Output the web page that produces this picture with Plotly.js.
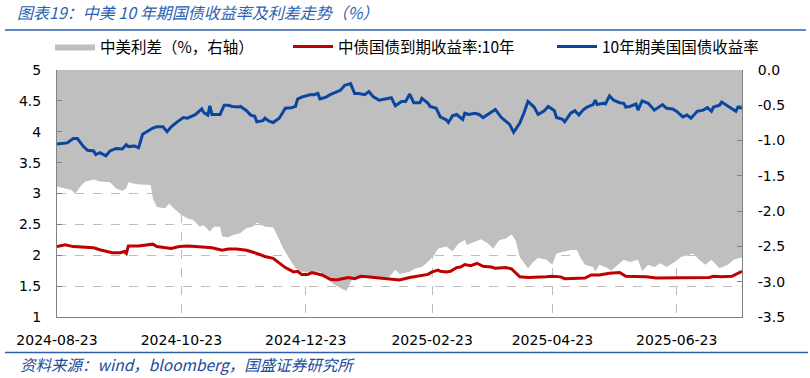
<!DOCTYPE html>
<html>
<head>
<meta charset="utf-8">
<script src="https://cdn.plot.ly/plotly-3.0.1.min.js"></script>
<style>html,body{margin:0;padding:0;background:#fff;}#chart{width:810px;height:378px;}</style>
</head>
<body>
<div id="chart"></div>
<script>
// ---- data ----
const usDates = ["2024-08-23","2024-08-28","2024-08-31","2024-09-02","2024-09-05","2024-09-07","2024-09-10","2024-09-11","2024-09-13","2024-09-16","2024-09-18","2024-09-21","2024-09-24","2024-09-26","2024-09-27","2024-09-30","2024-10-02","2024-10-04","2024-10-06","2024-10-09","2024-10-11","2024-10-14","2024-10-16","2024-10-18","2024-10-21","2024-10-24","2024-10-26","2024-10-29","2024-10-30","2024-11-02","2024-11-03","2024-11-05","2024-11-06","2024-11-07","2024-11-11","2024-11-13","2024-11-15","2024-11-17","2024-11-20","2024-11-21","2024-11-24","2024-11-26","2024-11-28","2024-11-29","2024-12-02","2024-12-03","2024-12-05","2024-12-07","2024-12-10","2024-12-13","2024-12-16","2024-12-18","2024-12-19","2024-12-21","2024-12-25","2024-12-27","2024-12-29","2024-12-30","2025-01-02","2025-01-04","2025-01-07","2025-01-09","2025-01-11","2025-01-14","2025-01-16","2025-01-18","2025-01-21","2025-01-23","2025-01-25","2025-01-28","2025-01-31","2025-02-03","2025-02-05","2025-02-08","2025-02-10","2025-02-12","2025-02-14","2025-02-17","2025-02-18","2025-02-21","2025-02-22","2025-02-25","2025-02-27","2025-03-02","2025-03-03","2025-03-05","2025-03-07","2025-03-10","2025-03-11","2025-03-13","2025-03-16","2025-03-18","2025-03-20","2025-03-23","2025-03-26","2025-03-29","2025-03-31","2025-04-02","2025-04-04","2025-04-07","2025-04-09","2025-04-11","2025-04-14","2025-04-16","2025-04-19","2025-04-21","2025-04-24","2025-04-25","2025-04-28","2025-04-29","2025-05-02","2025-05-04","2025-05-06","2025-05-08","2025-05-10","2025-05-13","2025-05-14","2025-05-15","2025-05-18","2025-05-19","2025-05-21","2025-05-23","2025-05-26","2025-05-28","2025-05-29","2025-05-31","2025-06-03","2025-06-04","2025-06-06","2025-06-09","2025-06-12","2025-06-14","2025-06-16","2025-06-18","2025-06-21","2025-06-23","2025-06-26","2025-06-28","2025-06-30","2025-07-03","2025-07-06","2025-07-08","2025-07-10","2025-07-11","2025-07-14","2025-07-15","2025-07-18","2025-07-20","2025-07-22","2025-07-23","2025-07-25"];
const usYield = [3.80,3.82,3.89,3.89,3.76,3.70,3.69,3.63,3.66,3.61,3.69,3.73,3.72,3.79,3.76,3.77,3.74,3.96,4.00,4.06,4.08,4.08,4.00,4.08,4.16,4.23,4.22,4.26,4.28,4.37,4.31,4.27,4.42,4.28,4.28,4.43,4.43,4.41,4.40,4.41,4.34,4.27,4.25,4.16,4.18,4.22,4.17,4.15,4.22,4.38,4.39,4.41,4.53,4.56,4.60,4.60,4.62,4.53,4.56,4.60,4.65,4.67,4.75,4.78,4.62,4.62,4.60,4.65,4.57,4.51,4.53,4.55,4.42,4.49,4.49,4.61,4.47,4.47,4.54,4.46,4.41,4.38,4.24,4.19,4.15,4.26,4.28,4.20,4.30,4.28,4.30,4.28,4.23,4.30,4.36,4.23,4.17,4.12,3.99,4.14,4.30,4.49,4.40,4.28,4.34,4.41,4.34,4.23,4.20,4.16,4.30,4.34,4.27,4.35,4.40,4.44,4.51,4.44,4.46,4.45,4.58,4.51,4.47,4.46,4.40,4.41,4.45,4.35,4.50,4.46,4.35,4.40,4.44,4.38,4.37,4.33,4.24,4.27,4.22,4.33,4.35,4.39,4.33,4.40,4.43,4.48,4.42,4.38,4.33,4.40,4.38];

const cnDates = ["2024-08-23","2024-08-27","2024-08-31","2024-09-05","2024-09-10","2024-09-13","2024-09-16","2024-09-19","2024-09-23","2024-09-25","2024-09-26","2024-09-27","2024-10-02","2024-10-06","2024-10-09","2024-10-11","2024-10-14","2024-10-18","2024-10-22","2024-10-26","2024-10-30","2024-11-03","2024-11-07","2024-11-12","2024-11-15","2024-11-19","2024-11-24","2024-11-29","2024-12-03","2024-12-07","2024-12-10","2024-12-13","2024-12-17","2024-12-19","2024-12-21","2024-12-24","2024-12-26","2024-12-29","2024-12-31","2025-01-04","2025-01-07","2025-01-10","2025-01-13","2025-01-16","2025-01-19","2025-01-22","2025-01-26","2025-01-30","2025-02-04","2025-02-07","2025-02-12","2025-02-15","2025-02-18","2025-02-21","2025-02-23","2025-02-26","2025-02-27","2025-03-02","2025-03-04","2025-03-07","2025-03-09","2025-03-11","2025-03-14","2025-03-17","2025-03-20","2025-03-24","2025-03-26","2025-03-31","2025-04-03","2025-04-05","2025-04-07","2025-04-11","2025-04-15","2025-04-20","2025-04-23","2025-04-27","2025-04-29","2025-05-06","2025-05-09","2025-05-12","2025-05-16","2025-05-21","2025-05-26","2025-05-29","2025-06-03","2025-06-08","2025-06-13","2025-06-19","2025-06-26","2025-07-04","2025-07-09","2025-07-11","2025-07-15","2025-07-20","2025-07-23","2025-07-25"];
const cnYield = [2.14,2.17,2.14,2.13,2.12,2.09,2.06,2.04,2.04,2.06,2.03,2.15,2.15,2.17,2.18,2.14,2.13,2.11,2.14,2.15,2.14,2.13,2.12,2.08,2.10,2.10,2.08,2.03,1.98,1.95,1.87,1.80,1.73,1.74,1.69,1.69,1.72,1.69,1.68,1.61,1.60,1.62,1.64,1.62,1.66,1.65,1.64,1.62,1.61,1.60,1.64,1.66,1.68,1.69,1.73,1.76,1.74,1.73,1.74,1.80,1.81,1.85,1.83,1.87,1.82,1.81,1.79,1.80,1.78,1.71,1.65,1.64,1.64,1.65,1.66,1.65,1.62,1.62,1.63,1.68,1.68,1.71,1.72,1.66,1.66,1.65,1.63,1.63,1.64,1.63,1.64,1.66,1.65,1.66,1.71,1.74];

const spreadDates = ["2024-08-23","2024-08-27","2024-08-30","2024-09-01","2024-09-04","2024-09-06","2024-09-10","2024-09-13","2024-09-18","2024-09-21","2024-09-24","2024-09-26","2024-09-27","2024-10-01","2024-10-08","2024-10-09","2024-10-11","2024-10-15","2024-10-17","2024-10-20","2024-10-23","2024-10-26","2024-10-29","2024-11-01","2024-11-03","2024-11-06","2024-11-08","2024-11-11","2024-11-12","2024-11-15","2024-11-17","2024-11-21","2024-11-24","2024-11-27","2024-11-29","2024-12-03","2024-12-07","2024-12-09","2024-12-12","2024-12-16","2024-12-18","2024-12-21","2024-12-25","2024-12-30","2025-01-02","2025-01-05","2025-01-09","2025-01-12","2025-01-15","2025-01-18","2025-01-21","2025-01-25","2025-01-29","2025-02-02","2025-02-05","2025-02-07","2025-02-12","2025-02-15","2025-02-18","2025-02-22","2025-02-24","2025-02-26","2025-03-02","2025-03-05","2025-03-08","2025-03-11","2025-03-12","2025-03-16","2025-03-19","2025-03-22","2025-03-25","2025-03-28","2025-03-31","2025-04-03","2025-04-05","2025-04-07","2025-04-11","2025-04-13","2025-04-16","2025-04-20","2025-04-23","2025-04-25","2025-04-29","2025-05-02","2025-05-05","2025-05-07","2025-05-09","2025-05-13","2025-05-14","2025-05-16","2025-05-19","2025-05-22","2025-05-26","2025-05-28","2025-05-31","2025-06-04","2025-06-06","2025-06-09","2025-06-12","2025-06-15","2025-06-18","2025-06-22","2025-06-25","2025-06-28","2025-07-01","2025-07-04","2025-07-07","2025-07-10","2025-07-14","2025-07-18","2025-07-21","2025-07-24","2025-07-25"];
const spreadValues = [-1.65,-1.68,-1.70,-1.75,-1.63,-1.58,-1.55,-1.58,-1.59,-1.68,-1.71,-1.68,-1.59,-1.62,-1.63,-1.82,-1.94,-1.96,-1.89,-1.98,-2.05,-2.10,-2.13,-2.22,-2.20,-2.29,-2.22,-2.22,-2.36,-2.37,-2.34,-2.31,-2.24,-2.22,-2.16,-2.22,-2.23,-2.34,-2.53,-2.72,-2.81,-2.86,-2.86,-2.86,-2.95,-3.02,-3.09,-3.13,-2.95,-2.93,-2.95,-2.93,-2.95,-2.93,-2.83,-2.89,-2.86,-2.81,-2.79,-2.69,-2.62,-2.53,-2.50,-2.57,-2.46,-2.41,-2.48,-2.44,-2.40,-2.45,-2.53,-2.41,-2.39,-2.33,-2.42,-2.65,-2.81,-2.74,-2.66,-2.69,-2.76,-2.60,-2.57,-2.55,-2.55,-2.67,-2.76,-2.79,-2.86,-2.76,-2.79,-2.84,-2.74,-2.69,-2.72,-2.69,-2.85,-2.76,-2.79,-2.74,-2.79,-2.72,-2.65,-2.62,-2.60,-2.69,-2.76,-2.69,-2.81,-2.76,-2.69,-2.66,-2.66];

const seriesNames = ["中美利差（%，右轴）", "中债国债到期收益率:10年", "10年期美国国债收益率"];
const rightTickVals = [-3.5,-3.0,-2.5,-2.0,-1.5,-1.0,-0.5,0.0];
const rightTickText = ["-3.5","-3.0","-2.5","-2.0","-1.5","-1.0","-0.5","0.0"];
const xRange = ["2024-08-23","2025-07-25"];
const titleText = "图表19：中美 10 年期国债收益率及利差走势（%）";
const sourceText = "资料来源：wind，bloomberg，国盛证券研究所";

// ---- chart ----
const CJK = "Noto Sans CJK SC, Noto Sans, sans-serif";
const GRID = "#bdbdbd";
const traces = [
  {x: spreadDates, y: spreadValues, name: seriesNames[0], type: "scatter", mode: "lines",
   yaxis: "y", fill: "tozeroy", fillcolor: "#bfbfbf", line: {width: 0, color: "#bfbfbf"}, legend: "legend"},
  {x: cnDates, y: cnYield, name: seriesNames[1], type: "scatter", mode: "lines",
   yaxis: "y2", line: {width: 3, color: "#c00000"}, legend: "legend2"},
  {x: usDates, y: usYield, name: seriesNames[2], type: "scatter", mode: "lines",
   yaxis: "y2", line: {width: 3, color: "#0a46a0"}, legend: "legend3"}
];

const W = 810, H = 378, L = 57, R = 68, T = 70, B = 61;
const pw = W - L - R, ph = H - T - B;
const px = v => (v - L) / pw;
const py = v => (H - B - v) / ph;

const legendBase = {xanchor: "left", yanchor: "middle", orientation: "h", y: py(47),
  bgcolor: "rgba(0,0,0,0)", itemwidth: 40, font: {family: CJK, size: 15.5, color: "#000"}};

const layout = {
  width: W, height: H,
  margin: {l: L, r: R, t: T, b: B, pad: 0},
  paper_bgcolor: "#ffffff", plot_bgcolor: "#ffffff",
  font: {family: "DejaVu Sans", size: 14, color: "#000"},
  showlegend: true,
  title: {text: titleText, xref: "container", yref: "container", x: 17 / W, xanchor: "left",
          y: 1 - 13 / H, yanchor: "middle",
          font: {family: CJK, size: 16, color: "#2a62b0", style: "italic"}},
  xaxis: {type: "date", range: xRange, tick0: "2024-08-23", dtick: "M2", tickformat: "%Y-%m-%d",
          showgrid: true, gridcolor: GRID, griddash: "dash", gridwidth: 1,
          showline: true, linecolor: "#808080", linewidth: 1, ticks: "", zeroline: false,
          ticklabelstandoff: 10, tickfont: {family: "DejaVu Sans", size: 14, color: "#000"}},
  yaxis: {range: [-3.5, 0], side: "right", tickvals: rightTickVals, ticktext: rightTickText,
          showgrid: false, showline: true, linecolor: "#808080", linewidth: 1,
          ticks: "inside", ticklen: 5, tickcolor: "#808080", zeroline: false,
          ticklabelstandoff: 12, tickfont: {family: "DejaVu Sans", size: 14, color: "#000"}},
  yaxis2: {range: [1, 5], overlaying: "y", side: "left", tick0: 1, dtick: 0.5,
          showgrid: true, gridcolor: GRID, griddash: "dash", gridwidth: 1,
          showline: true, linecolor: "#808080", linewidth: 1,
          ticks: "inside", ticklen: 5, tickcolor: "#808080", zeroline: false,
          ticklabelstandoff: 12, tickfont: {family: "DejaVu Sans", size: 14, color: "#000"}},
  legend: Object.assign({}, legendBase, {x: px(50)}),
  legend2: Object.assign({}, legendBase, {x: px(288)}),
  legend3: Object.assign({}, legendBase, {x: px(552)}),
  shapes: [
    {type: "line", xref: "paper", yref: "paper", x0: px(5), x1: px(806), y0: py(30), y1: py(30),
     line: {color: "#2e5fa8", width: 1.5}},
    {type: "line", xref: "paper", yref: "paper", x0: px(5), x1: px(808), y0: py(352.5), y1: py(352.5),
     line: {color: "#2e5fa8", width: 1.5}}
  ],
  annotations: [
    {text: sourceText, xref: "paper", yref: "paper", x: px(18), y: py(364), xanchor: "left", yanchor: "middle",
     showarrow: false, font: {family: CJK, size: 15.5, color: "#1c4b9c", style: "italic"}}
  ]
};

Plotly.newPlot("chart", traces, layout, {displayModeBar: false, staticPlot: true});
</script>
</body>
</html>
